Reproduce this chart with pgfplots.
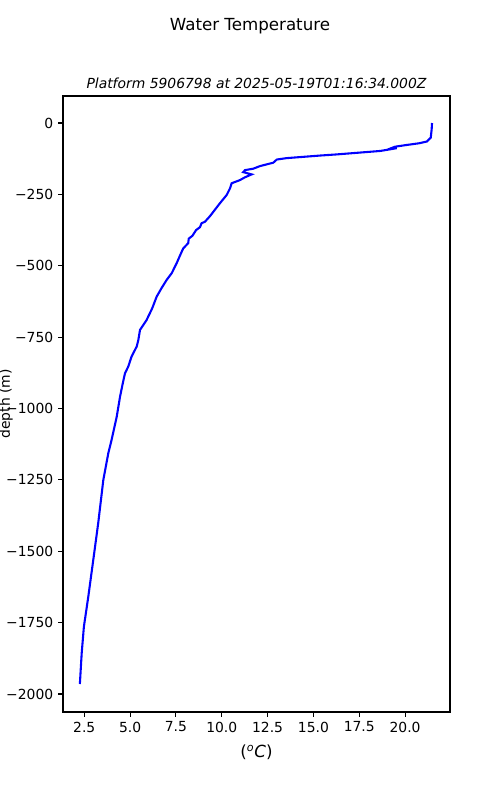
\documentclass[border=0pt]{standalone}
\usepackage{pgfplots}
\pgfplotsset{compat=1.18}
\usepackage{fontspec}
\setmainfont{DejaVu Sans}
\begin{document}
\begin{tikzpicture}[x=1pt,y=1pt]
\useasboundingbox (-45.36,-63.36) rectangle (314.64,512.64);
\begin{axis}[
  at={(0,0)}, anchor=south west,
  scale only axis, width=278.64pt, height=443.52pt,
  xmin=1.34, xmax=22.45, ymin=-2063, ymax=94.6,
  axis line style={line width=0.8pt},
  tick align=outside, major tick length=3.5pt,
  every tick/.style={black, line width=0.8pt},
  xtick={2.5,5,7.5,10,12.5,15,17.5,20},
  xticklabels={2.5,5.0,7.5,10.0,12.5,15.0,17.5,20.0},
  ytick={-2000,-1750,-1500,-1250,-1000,-750,-500,-250,0},
  yticklabels={−2000,−1750,−1500,−1250,−1000,−750,−500,−250,0},
  tick label style={font=\fontsize{10}{12}\selectfont},
  xtick pos=bottom, ytick pos=left,
  xlabel={(\textsuperscript{\textit{o}}\textit{C})},
  xlabel style={font=\fontsize{12}{14}\selectfont, at={(axis description cs:0.5,0)}, anchor=center, yshift=-28.8pt},
  ylabel={depth (m)},
  ylabel style={font=\fontsize{10}{12}\selectfont, at={(axis description cs:-0.147,0.5)}, anchor=center},
  clip=true,
]
\addplot[blue, line width=1.5pt] table {
x y
21.47 0
21.45 -22
21.40 -51
21.18 -65
20.76 -71
20.08 -77
19.45 -83
19.25 -88
19.55 -88
19.20 -92
18.63 -98
16.27 -110
15.36 -114
13.54 -123
13.00 -128
12.81 -139
12.08 -151
11.72 -160
11.27 -165
11.17 -172
11.63 -180
11.27 -190
10.99 -200
10.54 -211
10.45 -229
10.27 -252
9.90 -281
9.54 -311
9.36 -326
9.08 -346
8.90 -351
8.81 -365
8.60 -375
8.40 -395
8.20 -405
8.17 -421
7.90 -439
7.75 -460
7.54 -491
7.27 -526
6.99 -550
6.70 -580
6.45 -608
6.20 -650
5.90 -690
5.54 -725
5.45 -760
5.36 -783
5.08 -818
4.90 -853
4.72 -877
4.60 -912
4.45 -959
4.27 -1029
3.99 -1110
3.81 -1157
3.54 -1250
3.26 -1402
2.99 -1531
2.72 -1659
2.48 -1764
2.36 -1857
2.26 -1965
};
\end{axis}
\node[font=\fontsize{12}{14}\selectfont, anchor=center] at (134.64,494.0) {Water Temperature};
\node[font=\fontsize{10}{12}\selectfont\itshape, anchor=center] at (139.32,452.9) {Platform 5906798 at 2025-05-19T01:16:34.000Z};
\end{tikzpicture}
\end{document}
